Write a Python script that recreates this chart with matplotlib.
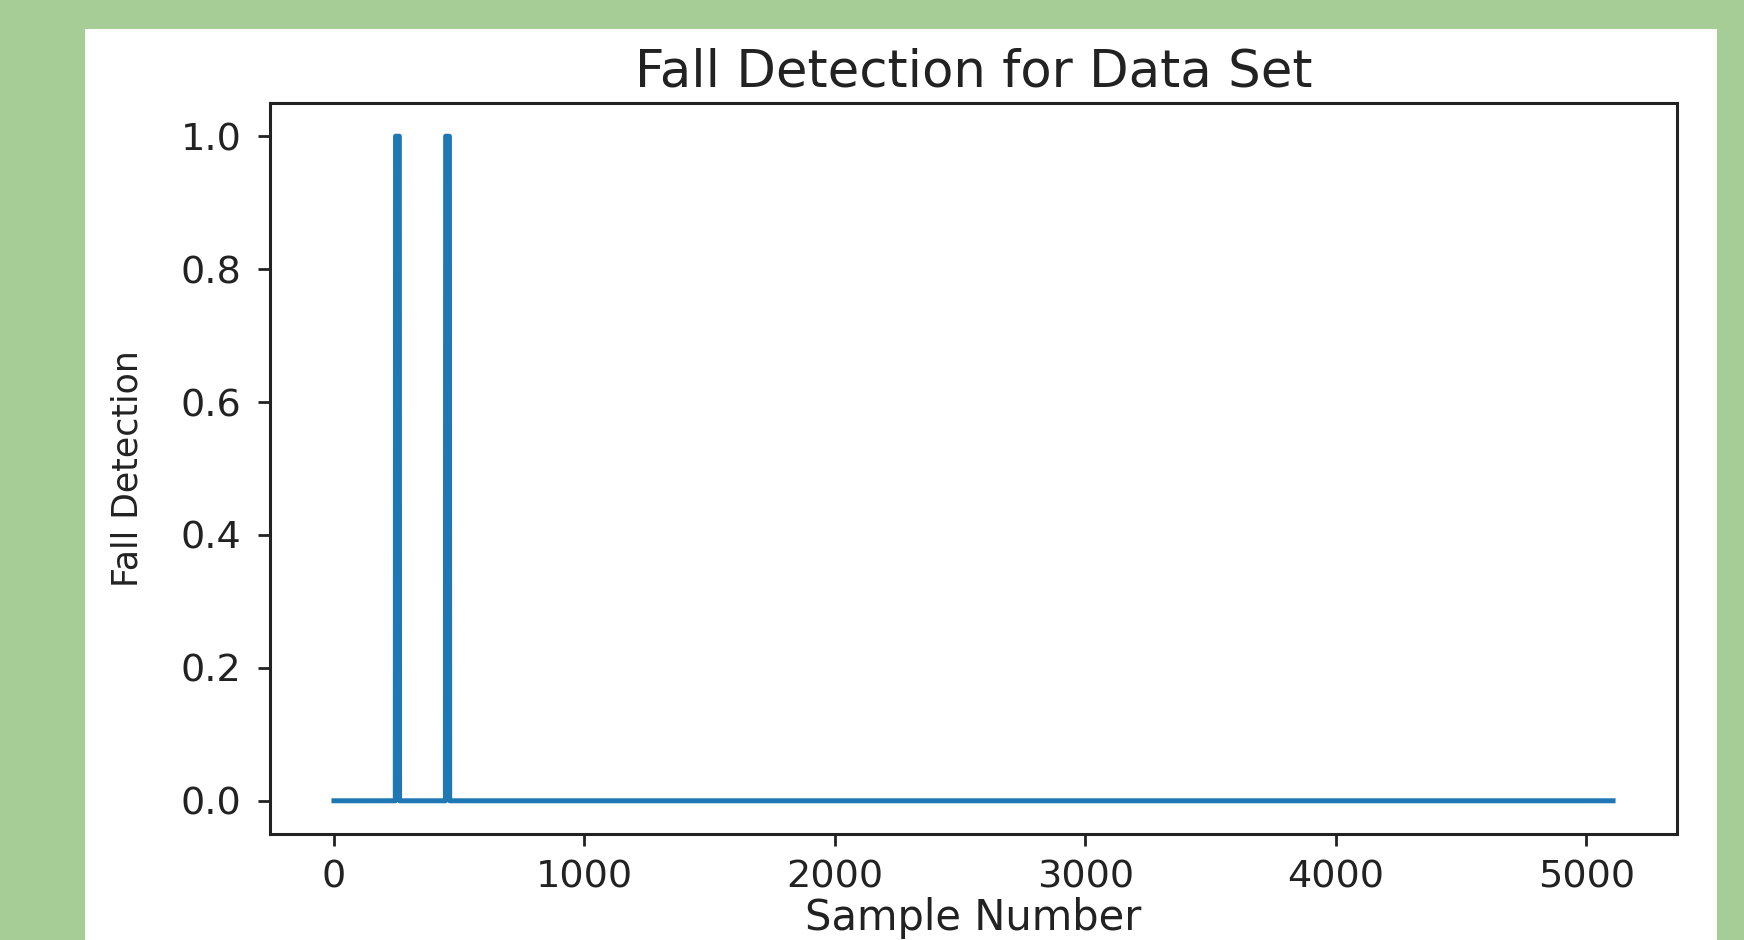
import numpy as np
import matplotlib
matplotlib.use('Agg')
import matplotlib.pyplot as plt
from matplotlib.patches import Rectangle

# fall detection output, stored as breakpoints of the step signal (sample, value)
sample_number = [0, 245, 246, 261, 262, 445, 446, 461, 462, 5107]
fall_detection = [0, 0, 1, 1, 0, 0, 1, 1, 0, 0]

x_ticks = [0, 1000, 2000, 3000, 4000, 5000]
y_ticks = [0.0, 0.2, 0.4, 0.6, 0.8, 1.0]

BG_GREEN = '#a7cd96'
LINE_BLUE = '#1f77b4'


def main():
    fig = plt.figure(figsize=(17.44, 9.40), dpi=100, facecolor=BG_GREEN)
    # white slide panel behind the plot
    fig.patches.append(Rectangle((85 / 1744, 0), (1717 - 85) / 1744, 1 - 29 / 940,
                                 transform=fig.transFigure, facecolor='white',
                                 edgecolor='none', zorder=-10))

    ax = fig.add_axes([270 / 1744, 1 - 834 / 940, (1677 - 270) / 1744, (834 - 103) / 940])
    ax.set_zorder(5)
    ax.plot(sample_number, fall_detection, color=LINE_BLUE, linewidth=3.6)

    ax.set_xticks(x_ticks)
    ax.set_yticks(y_ticks)
    ax.set_yticklabels(['%.1f' % v for v in y_ticks])
    ax.tick_params(labelsize=27.5, length=8.5, width=2, pad=12, colors='#222222')
    ax.tick_params(axis='x', pad=10)
    for sp in ax.spines.values():
        sp.set_linewidth(2.2)
        sp.set_color('#222222')

    ax.set_title('Fall Detection for Data Set', fontsize=37, pad=12, color='#222222')
    ax.set_xlabel('Sample Number', fontsize=30, labelpad=1, color='#222222')
    ax.set_ylabel('Fall Detection', fontsize=25, labelpad=26, color='#222222')

    fig.savefig('out.png', dpi=100, facecolor=fig.get_facecolor())


if __name__ == "__main__":
    main()
